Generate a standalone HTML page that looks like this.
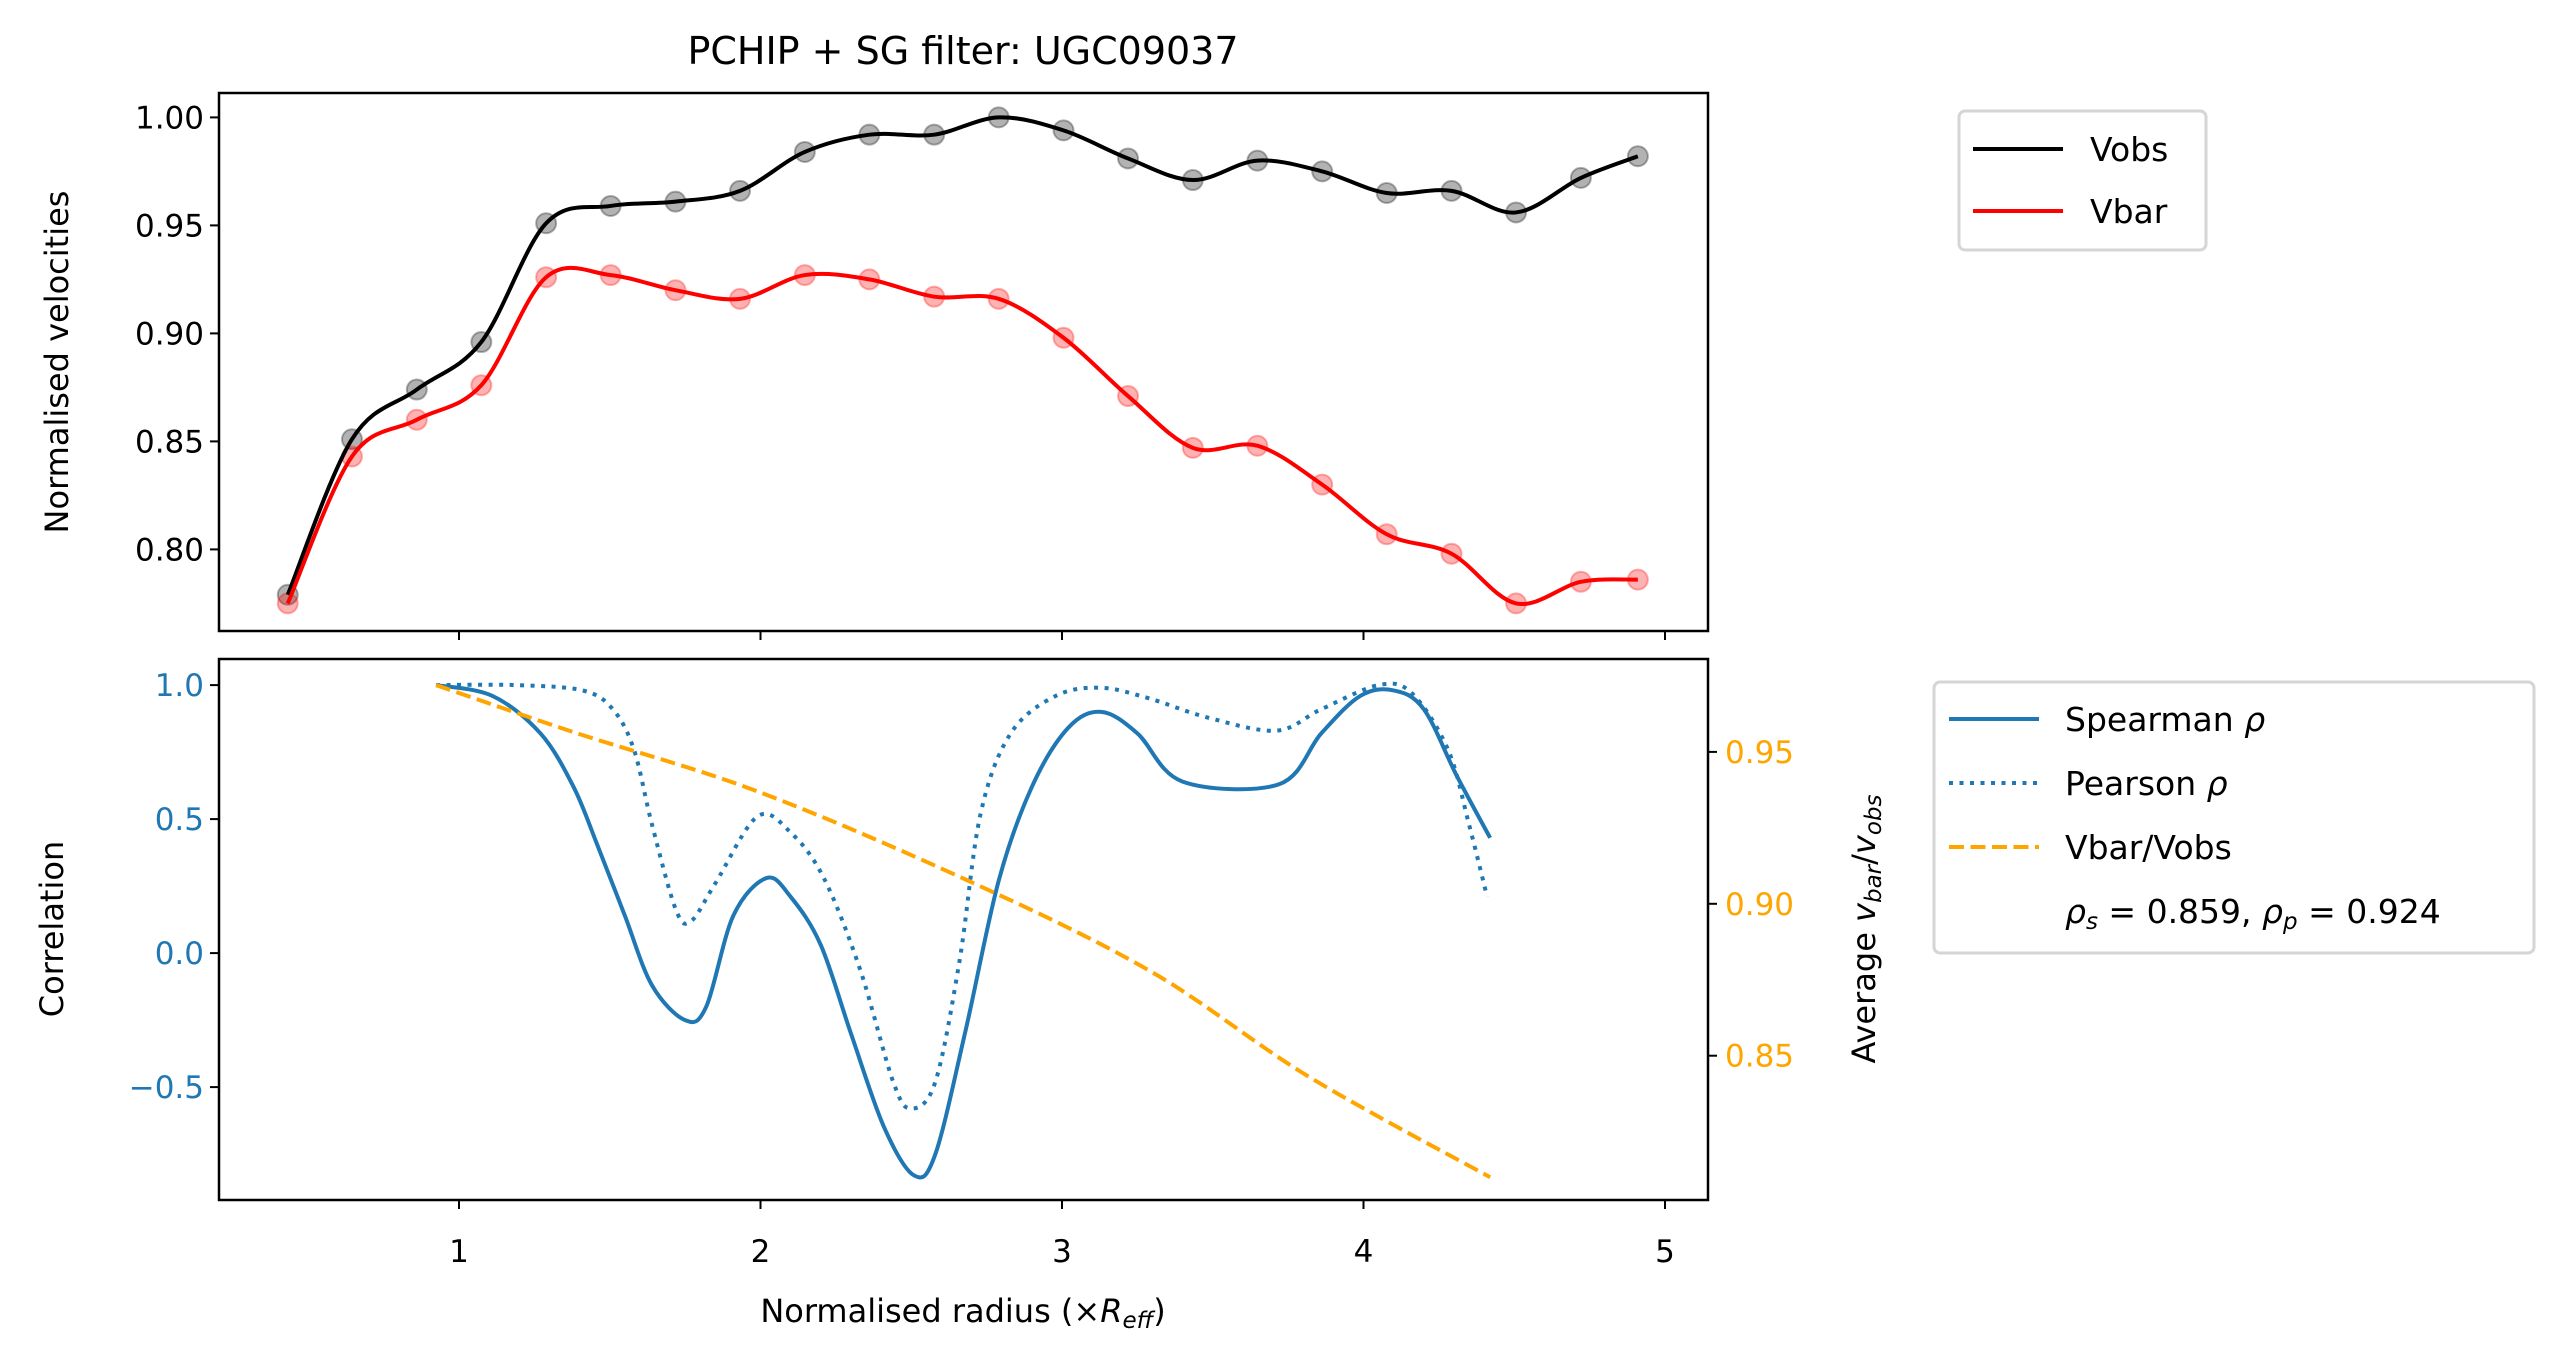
<!DOCTYPE html>
<html><head><meta charset="utf-8"><style>
body{margin:0;background:#fff;}
svg{display:block;font-family:"DejaVu Sans","Liberation Sans",sans-serif;}
</style></head><body>
<svg id="fig" width="2564" height="1362" viewBox="0 0 2564 1362" xmlns="http://www.w3.org/2000/svg">
<rect width="2564" height="1362" fill="#fff"/>
<text x="963" y="64" font-size="38" text-anchor="middle">PCHIP + SG filter: UGC09037</text>
<g id="topPanel"></g>
<g id="botPanel"></g>
<text transform="translate(68,362) rotate(-90)" font-size="32" text-anchor="middle">Normalised velocities</text>
<text transform="translate(63,929) rotate(-90)" font-size="32" text-anchor="middle">Correlation</text>
<text transform="translate(1875,929) rotate(-90)" font-size="32" text-anchor="middle">Average <tspan font-style="italic">v</tspan><tspan font-style="italic" font-size="23" dy="6">bar</tspan><tspan dy="-6">/</tspan><tspan font-style="italic">v</tspan><tspan font-style="italic" font-size="23" dy="6">obs</tspan></text>
<text x="963" y="1322" font-size="32" text-anchor="middle">Normalised radius (×<tspan font-style="italic">R</tspan><tspan font-style="italic" font-size="23" dy="6">eff</tspan><tspan dy="-6">)</tspan></text>
<g>
<rect x="1959" y="111" width="247" height="139" rx="6" fill="#fff" stroke="#d5d5d5" stroke-width="3"/>
<line x1="1973" y1="149" x2="2063" y2="149" stroke="#000" stroke-width="4"/>
<text x="2090" y="161" font-size="33">Vobs</text>
<line x1="1973" y1="211" x2="2063" y2="211" stroke="#ff0000" stroke-width="4"/>
<text x="2090" y="223" font-size="33">Vbar</text>
</g>
<g>
<rect x="1934" y="682" width="600" height="271" rx="6" fill="#fff" stroke="#d5d5d5" stroke-width="3"/>
<line x1="1949" y1="719" x2="2039" y2="719" stroke="#1f77b4" stroke-width="4"/>
<text x="2065" y="731" font-size="33">Spearman <tspan font-style="italic">ρ</tspan></text>
<line x1="1949" y1="783" x2="2039" y2="783" stroke="#1f77b4" stroke-width="4" stroke-dasharray="4,6.5"/>
<text x="2065" y="795" font-size="33">Pearson <tspan font-style="italic">ρ</tspan></text>
<line x1="1949" y1="847" x2="2039" y2="847" stroke="#ffa500" stroke-width="4" stroke-dasharray="15,6.5"/>
<text x="2065" y="859" font-size="33">Vbar/Vobs</text>
<text x="2065" y="923" font-size="33"><tspan font-style="italic">ρ</tspan><tspan font-style="italic" font-size="23" dy="6">s</tspan><tspan dy="-6"> = 0.859, </tspan><tspan font-style="italic">ρ</tspan><tspan font-style="italic" font-size="23" dy="6">p</tspan><tspan dy="-6"> = 0.924</tspan></text>
</g>
</svg>
<script>
const radius=[0.432,0.645,0.86,1.074,1.289,1.503,1.718,1.932,2.147,2.361,2.576,2.79,3.005,3.219,3.434,3.648,3.863,4.077,4.292,4.506,4.721,4.91];
const vobs=[0.779,0.851,0.874,0.896,0.951,0.959,0.961,0.966,0.984,0.992,0.992,1.000,0.994,0.981,0.971,0.980,0.975,0.965,0.966,0.956,0.972,0.982];
const vbar=[0.775,0.843,0.860,0.876,0.926,0.927,0.920,0.916,0.927,0.925,0.917,0.916,0.898,0.871,0.847,0.848,0.830,0.807,0.798,0.775,0.785,0.786];
const spX=[0.924,1.11,1.27,1.38,1.46,1.55,1.64,1.75,1.82,1.91,2.02,2.10,2.20,2.30,2.41,2.51,2.58,2.68,2.79,2.90,3.02,3.13,3.25,3.40,3.72,3.86,3.99,4.10,4.20,4.31,4.42];
const spY=[1.0,0.96,0.82,0.62,0.40,0.14,-0.12,-0.25,-0.2,0.14,0.28,0.21,0.03,-0.30,-0.65,-0.83,-0.75,-0.29,0.27,0.62,0.84,0.90,0.82,0.64,0.63,0.82,0.96,0.98,0.91,0.66,0.43];
const peX=[0.924,1.19,1.41,1.51,1.58,1.64,1.72,1.77,1.85,1.99,2.10,2.21,2.33,2.44,2.50,2.58,2.66,2.73,2.83,2.98,3.13,3.29,3.48,3.71,3.86,4.05,4.16,4.28,4.35,4.41];
const peY=[1.0,1.0,0.98,0.91,0.76,0.48,0.16,0.12,0.26,0.51,0.45,0.28,-0.06,-0.48,-0.58,-0.48,-0.03,0.52,0.82,0.96,0.99,0.95,0.88,0.83,0.91,1.0,0.97,0.76,0.48,0.21];
const raX=[0.924,1.38,1.99,2.68,3.29,3.82,4.42];
const raY=[0.972,0.9565,0.937,0.908,0.878,0.843,0.810];
const xTicks=[1,2,3,4,5];
const topTicks=[0.80,0.85,0.90,0.95,1.00];
const corrTicks=[-0.5,0.0,0.5,1.0];
const ratioTicks=[0.85,0.90,0.95];

const NS="http://www.w3.org/2000/svg";
const L=219,R=1708;
const sx=v=>157.5+301.5*v;
const syTop=v=>117.4+(1-v)/0.05*108;
const syCorr=v=>685.1+(1-v)*268;
const syRat=v=>751.9+(0.95-v)/0.05*151.9;
function mk(parent,tag,attrs){const e=document.createElementNS(NS,tag);for(const k in attrs)e.setAttribute(k,attrs[k]);parent.appendChild(e);return e;}
function smooth(xs,ys,fx,fy){const p=xs.map((x,i)=>[fx(x),fy(ys[i])]);let d=`M${p[0][0]},${p[0][1]}`;for(let i=0;i<p.length-1;i++){const p0=p[i-1]||p[i],p1=p[i],p2=p[i+1],p3=p[i+2]||p2;const c1=[p1[0]+(p2[0]-p0[0])/6,p1[1]+(p2[1]-p0[1])/6],c2=[p2[0]-(p3[0]-p1[0])/6,p2[1]-(p3[1]-p1[1])/6];d+=` C${c1[0]},${c1[1]} ${c2[0]},${c2[1]} ${p2[0]},${p2[1]}`;}return d;}

const topG=document.getElementById('topPanel');
radius.forEach((x,i)=>{
 const c=mk(topG,'circle',{cx:sx(x),cy:syTop(vobs[i]),r:10,fill:'rgba(0,0,0,0.3)',stroke:'rgba(0,0,0,0.3)','stroke-width':2});
 
 
 const d=mk(topG,'circle',{cx:sx(x),cy:syTop(vbar[i]),r:10,fill:'rgba(255,0,0,0.3)',stroke:'rgba(255,0,0,0.3)','stroke-width':2});
 
 
});
const lo=mk(topG,'path',{d:smooth(radius,vobs,sx,syTop),fill:'none',stroke:'#000','stroke-width':4});


const lb=mk(topG,'path',{d:smooth(radius,vbar,sx,syTop),fill:'none',stroke:'#ff0000','stroke-width':4});


mk(topG,'rect',{x:L,y:93,width:R-L,height:538,fill:'none',stroke:'#000','stroke-width':2.5});
xTicks.forEach(t=>{mk(topG,'line',{x1:sx(t),x2:sx(t),y1:631,y2:640,stroke:'#000','stroke-width':2});});
topTicks.forEach(t=>{const y=syTop(t);mk(topG,'line',{x1:L-9,x2:L,y1:y,y2:y,stroke:'#000','stroke-width':2});
 const tx=mk(topG,'text',{x:L-15,y:y+11,'font-size':31,'text-anchor':'end'});tx.textContent=t.toFixed(2);
 
 });

const botG=document.getElementById('botPanel');
const ps=mk(botG,'path',{d:smooth(spX,spY,sx,syCorr),fill:'none',stroke:'#1f77b4','stroke-width':4});


const pp=mk(botG,'path',{d:smooth(peX,peY,sx,syCorr),fill:'none',stroke:'#1f77b4','stroke-width':4,'stroke-dasharray':'4,6.5'});


const pr=mk(botG,'path',{d:smooth(raX,raY,sx,syRat),fill:'none',stroke:'#ffa500','stroke-width':4,'stroke-dasharray':'15,6.5'});


mk(botG,'rect',{x:L,y:659,width:R-L,height:541,fill:'none',stroke:'#000','stroke-width':2.5});
xTicks.forEach(t=>{mk(botG,'line',{x1:sx(t),x2:sx(t),y1:1200,y2:1209,stroke:'#000','stroke-width':2});
 const tx=mk(botG,'text',{x:sx(t),y:1262,'font-size':31,'text-anchor':'middle'});tx.textContent=t;
 
 });
corrTicks.forEach(t=>{const y=syCorr(t);mk(botG,'line',{x1:L-9,x2:L,y1:y,y2:y,stroke:'#000','stroke-width':2});
 const tx=mk(botG,'text',{x:L-15,y:y+11,'font-size':31,'text-anchor':'end',fill:'#1f77b4'});tx.textContent=(t<0?'\u22120.5':t.toFixed(1));
 
 });
ratioTicks.forEach(t=>{const y=syRat(t);mk(botG,'line',{x1:R,x2:R+9,y1:y,y2:y,stroke:'#000','stroke-width':2});
 const tx=mk(botG,'text',{x:R+17,y:y+11,'font-size':31,fill:'#ffa500'});tx.textContent=t.toFixed(2);
 
 });
</script>
</body></html>
